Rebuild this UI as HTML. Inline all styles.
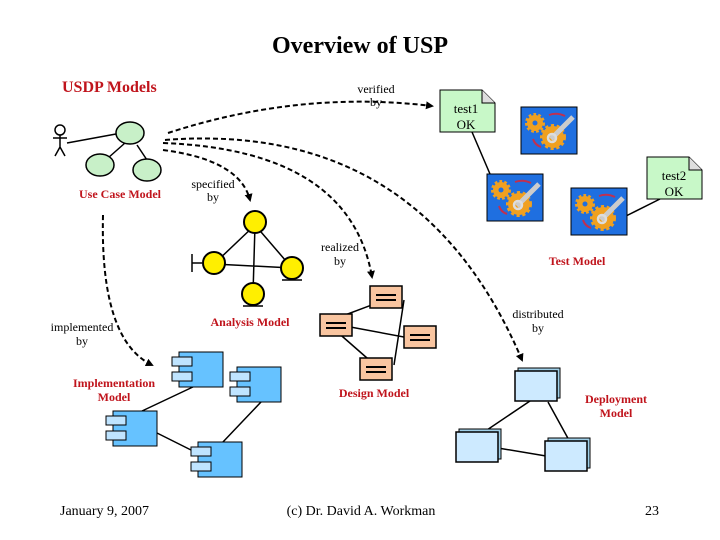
<!DOCTYPE html>
<html><head><meta charset="utf-8"><style>
html,body{margin:0;padding:0;background:#fff;}
svg{display:block;}
text{font-family:"Liberation Serif",serif;}
</style></head><body>
<svg width="720" height="540" viewBox="0 0 720 540" xmlns="http://www.w3.org/2000/svg">
<defs>
<marker id="ah" markerWidth="8" markerHeight="8" refX="6" refY="4" orient="auto" markerUnits="userSpaceOnUse"><path d="M0,0 L8,4 L0,8 z" fill="#000"/></marker>
<g id="ic">
<rect x="0" y="0" width="56" height="47" fill="#1f6fe0" stroke="#000" stroke-width="1"/>
<circle cx="14" cy="16" r="8" fill="#f0a020" stroke="#f0a020" stroke-width="4" stroke-dasharray="2.5 2"/>
<circle cx="14" cy="16" r="2.5" fill="#1f6fe0"/>
<circle cx="32" cy="30" r="11" fill="#f0a020" stroke="#f0a020" stroke-width="4" stroke-dasharray="3 2.5"/>
<path d="M30,32 L52,10" stroke="#ccc" stroke-width="5"/>
<circle cx="31" cy="31" r="4" fill="none" stroke="#ddd" stroke-width="2.5"/>
<path d="M28,8 Q36,5 44,9" stroke="#c03050" stroke-width="2" fill="none"/>
<path d="M12,32 Q14,38 20,40" stroke="#c03050" stroke-width="2" fill="none"/>
</g>
<g id="cmp">
<rect x="0" y="0" width="44" height="35" fill="#66c2ff" stroke="#000"/>
<rect x="-7" y="5" width="20" height="9" fill="#bfe4ff" stroke="#000"/>
<rect x="-7" y="20" width="20" height="9" fill="#bfe4ff" stroke="#000"/>
</g>
<g id="nd">
<rect x="3" y="-3" width="42" height="30" fill="#9fcfe8" stroke="#000"/>
<rect x="0" y="0" width="42" height="30" fill="#cdeaff" stroke="#000" stroke-width="1.5"/>
</g>
<g id="cls">
<rect x="0" y="0" width="32" height="22" fill="#f9c5a0" stroke="#000" stroke-width="1.5"/>
<path d="M6,9 H26 M6,14 H26" stroke="#000" stroke-width="2"/>
</g>
</defs>

<text x="360" y="53" font-size="24" font-weight="bold" text-anchor="middle">Overview of USP</text>
<text x="62" y="92" font-size="16" font-weight="bold" fill="#c0141c">USDP Models</text>

<g fill="none" stroke="#000" stroke-width="2" stroke-dasharray="5 3">
<path d="M168,133 Q300,90 432,106" marker-end="url(#ah)"/>
<path d="M165,140 Q420,120 522,360" marker-end="url(#ah)"/>
<path d="M163,143 Q350,150 372,277" marker-end="url(#ah)"/>
<path d="M163,150 Q240,160 250,200" marker-end="url(#ah)"/>
<path d="M103,215 Q100,340 152,365" marker-end="url(#ah)"/>
</g>

<g stroke="#000" stroke-width="1.5" fill="none">
<circle cx="60" cy="130" r="5"/>
<path d="M60,135 V147 M53,138 H67 M60,147 L55,156 M60,147 L65,156"/>
<path d="M67,143 L116,134"/>
<path d="M108,158 L125,143 M147,160 L137,145"/>
</g>
<ellipse cx="130" cy="133" rx="14" ry="11" fill="#c8f0c8" stroke="#000" stroke-width="1.5"/>
<ellipse cx="100" cy="165" rx="14" ry="11" fill="#c8f0c8" stroke="#000" stroke-width="1.5"/>
<ellipse cx="147" cy="170" rx="14" ry="11" fill="#c8f0c8" stroke="#000" stroke-width="1.5"/>
<text x="120" y="198" font-size="12" font-weight="bold" fill="#c0141c" text-anchor="middle">Use Case Model</text>

<text x="213" y="188" font-size="12" text-anchor="middle">specified</text>
<text x="213" y="201" font-size="12" text-anchor="middle">by</text>
<text x="376" y="93" font-size="12" text-anchor="middle">verified</text>
<text x="376" y="106" font-size="12" text-anchor="middle">by</text>
<text x="340" y="251" font-size="12" text-anchor="middle">realized</text>
<text x="340" y="265" font-size="12" text-anchor="middle">by</text>
<text x="82" y="331" font-size="12" text-anchor="middle">implemented</text>
<text x="82" y="345" font-size="12" text-anchor="middle">by</text>
<text x="538" y="318" font-size="12" text-anchor="middle">distributed</text>
<text x="538" y="332" font-size="12" text-anchor="middle">by</text>

<g stroke="#000" stroke-width="1.5">
<path d="M255,225 L214,264 M255,225 L292,268 M255,225 L253,294 M214,264 L292,268"/>
<path d="M192,254 V272 M192,263 H202"/>
<path d="M282,280 H302 M243,306 H263"/>
</g>
<circle cx="255" cy="222" r="11" fill="#ffef00" stroke="#000" stroke-width="2"/>
<circle cx="214" cy="263" r="11" fill="#ffef00" stroke="#000" stroke-width="2"/>
<circle cx="292" cy="268" r="11" fill="#ffef00" stroke="#000" stroke-width="2"/>
<circle cx="253" cy="294" r="11" fill="#ffef00" stroke="#000" stroke-width="2"/>
<text x="250" y="326" font-size="12" font-weight="bold" fill="#c0141c" text-anchor="middle">Analysis Model</text>

<g stroke="#000" stroke-width="1.5">
<path d="M385,300 L337,318 M345,326 L420,340 M335,330 L375,365 M404,300 L394,365"/>
</g>
<use href="#cls" x="370" y="286"/>
<use href="#cls" x="320" y="314"/>
<use href="#cls" x="404" y="326"/>
<use href="#cls" x="360" y="358"/>
<text x="374" y="397" font-size="12" font-weight="bold" fill="#c0141c" text-anchor="middle">Design Model</text>

<g stroke="#000" stroke-width="1.5">
<path d="M195,386 L142,411 M261,402 L222,443 M157,433 L193,451"/>
</g>
<use href="#cmp" x="179" y="352"/>
<use href="#cmp" x="237" y="367"/>
<use href="#cmp" x="113" y="411"/>
<use href="#cmp" x="198" y="442"/>
<text x="114" y="387" font-size="12" font-weight="bold" fill="#c0141c" text-anchor="middle">Implementation</text>
<text x="114" y="401" font-size="12" font-weight="bold" fill="#c0141c" text-anchor="middle">Model</text>

<g stroke="#000" stroke-width="1.5">
<path d="M530,401 L484,432 M548,402 L570,442 M498,448 L546,456"/>
</g>
<use href="#nd" x="515" y="371"/>
<use href="#nd" x="456" y="432"/>
<use href="#nd" x="545" y="441"/>
<text x="616" y="403" font-size="12" font-weight="bold" fill="#c0141c" text-anchor="middle">Deployment</text>
<text x="616" y="417" font-size="12" font-weight="bold" fill="#c0141c" text-anchor="middle">Model</text>

<g stroke="#000" stroke-width="1.5">
<path d="M472,132 L490,174 M626,216 L660,199"/>
</g>
<use href="#ic" x="521" y="107"/>
<use href="#ic" x="487" y="174"/>
<use href="#ic" x="571" y="188"/>
<path d="M440,90 H482 L495,103 V132 H440 Z" fill="#c8f8c8" stroke="#000"/>
<path d="M482,90 V103 H495" fill="#ddd" stroke="#000"/>
<text x="466" y="113" font-size="13" text-anchor="middle">test1</text>
<text x="466" y="129" font-size="13" text-anchor="middle">OK</text>
<path d="M647,157 H689 L702,170 V199 H647 Z" fill="#c8f8c8" stroke="#000"/>
<path d="M689,157 V170 H702" fill="#ddd" stroke="#000"/>
<text x="674" y="180" font-size="13" text-anchor="middle">test2</text>
<text x="674" y="196" font-size="13" text-anchor="middle">OK</text>
<text x="577" y="265" font-size="12" font-weight="bold" fill="#c0141c" text-anchor="middle">Test Model</text>

<text x="60" y="515" font-size="14">January 9, 2007</text>
<text x="361" y="515" font-size="14" text-anchor="middle">(c) Dr. David A. Workman</text>
<text x="659" y="515" font-size="14" text-anchor="end">23</text>
</svg>
</body></html>
